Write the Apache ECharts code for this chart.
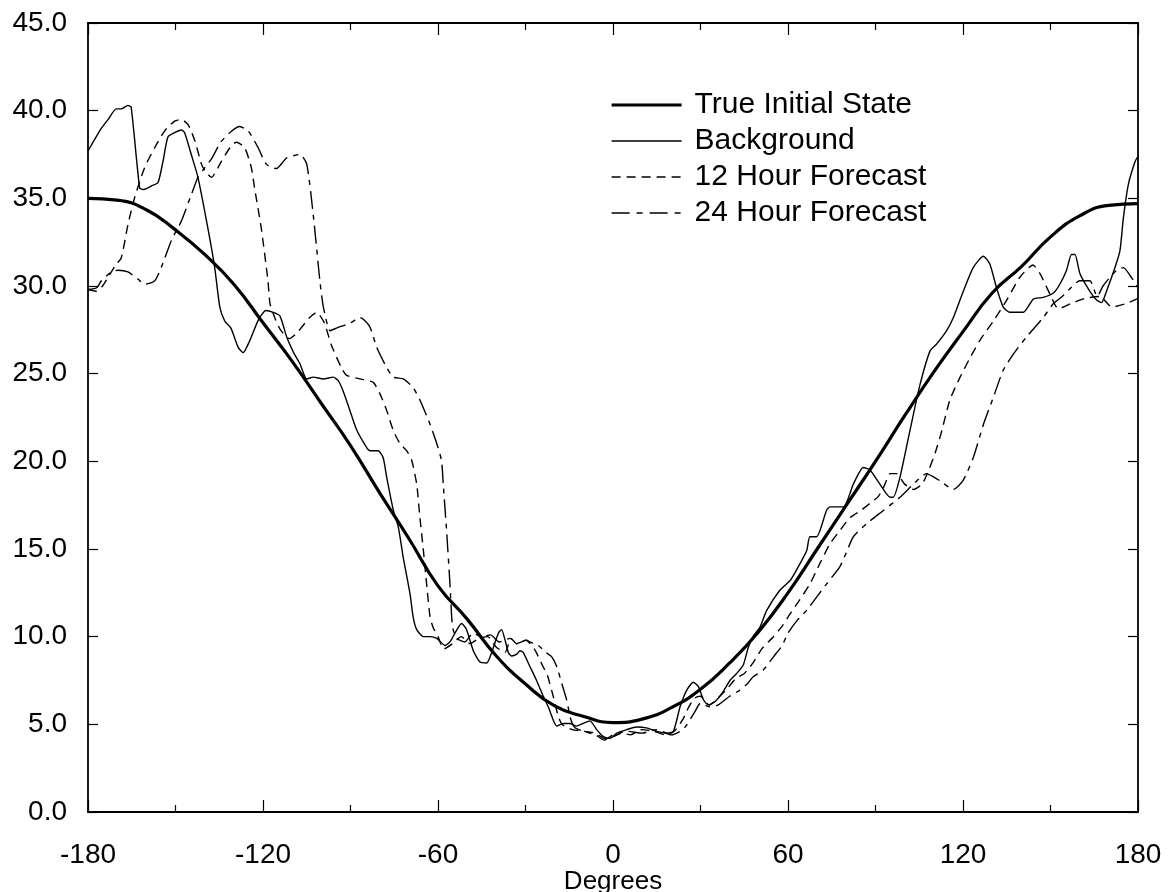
<!DOCTYPE html>
<html><head><meta charset="utf-8">
<script src="https://cdn.jsdelivr.net/npm/echarts@6/dist/echarts.min.js"></script>
<style>html,body{margin:0;padding:0;background:#fff}#c{width:1174px;height:892px}</style>
</head><body><div id="c"></div>
<script>
// ---- data ----
const trueX = [-180,-170,-160,-150,-140,-130,-120,-110,-100,-90,-80,-70,-60,-50,-40,-30,-20,-10,0,10,20,30,40,50,60,70,80,90,100,110,120,130,140,150,160,170,180];
const trueY = [35.0,34.9,34.35,33.2,31.8,30.1,27.9,25.7,23.3,20.9,18.2,15.6,12.9,11.0,8.9,7.3,6.05,5.45,5.1,5.3,5.95,7.0,8.5,10.3,12.5,15.0,17.5,20.0,22.6,25.1,27.4,29.6,31.1,32.8,34.0,34.6,34.7];

const bgX = [-180,-175.4,-173.1,-170.3,-168.6,-166.3,-165.2,-162.3,-161.1,-158.3,-156,-154.3,-152.6,-150.3,-148,-146.9,-144.6,-142.3,-138.9,-136.6,-134.8,-133.1,-131,-128.5,-126.8,-124.5,-121.5,-119,-116.5,-114.2,-111.9,-109.5,-107.3,-105,-102.8,-99.3,-95.9,-94.2,-92.5,-90.2,-87.9,-84.5,-83.3,-80.5,-78.8,-77.6,-75.3,-73.6,-71.9,-69.6,-68.5,-67.3,-65,-62.7,-60.4,-57.6,-55.9,-54.2,-51.9,-50.2,-47.9,-45.6,-43.3,-41.6,-39.3,-38.2,-37,-35.9,-34.8,-33,-31.9,-30.8,-28.5,-26.2,-23.9,-22.2,-20.5,-19.3,-17,-14.8,-12.5,-10.2,-7.9,-5.6,-3.3,-1,1.3,4.7,8.1,11.5,15,18.4,20.7,23,25.3,27.5,29.3,31,32.7,35,37.3,40.1,42.4,44.7,46.4,48,50.4,52.7,57.2,60.7,62.9,66.4,67.5,69.8,73.2,74.4,79,82.4,85.8,88.1,91.5,95,96.1,98.4,101.8,105.3,108.7,111,114.4,116.7,120.1,123.5,127,129.2,131.5,133.8,136.1,140.7,144.1,147.5,151,153.2,155.5,157.2,158.4,160.1,163.5,165.8,167.5,169.2,172.1,173.8,175,176.7,179,180];
const bgY = [37.7,39.0,39.5,40.1,40.1,40.3,40.2,35.6,35.5,35.7,35.9,37.1,38.5,38.75,38.9,38.75,37.5,36.2,33.3,31.1,28.8,28.0,27.6,26.5,26.2,26.9,28.1,28.6,28.5,28.3,27.1,26.2,25.55,24.7,24.8,24.7,24.8,24.6,24.0,22.9,21.8,20.8,20.6,20.6,20.2,19.1,17.2,16.25,14.5,12.45,11.1,10.4,10.0,10.0,9.9,9.5,9.7,10.2,10.75,10.4,9.2,8.55,8.5,9.1,10.2,10.4,9.8,9.1,8.9,9.0,9.2,9.1,8.3,7.5,6.6,6.0,5.25,4.9,5.05,5.05,4.9,5.05,5.2,4.7,4.3,4.2,4.5,4.7,4.85,4.8,4.6,4.5,4.6,6.0,6.95,7.4,7.15,6.4,6.1,6.3,6.75,7.5,7.9,8.4,9.4,10.0,10.55,11.5,12.65,13.2,13.8,14.9,15.7,15.7,17.2,17.4,17.4,18.7,19.65,19.5,18.7,17.95,17.95,19.1,21.75,24.4,26.3,26.7,27.45,28.2,29.7,31.05,31.7,31.25,29.9,28.8,28.5,28.5,29.25,29.35,29.6,30.1,30.9,31.8,31.8,30.7,29.7,29.2,29.05,29.7,31.05,32.0,33.9,35.8,37.1,37.4];

const f12X = [-180,-177,-175,-173.1,-170.5,-168.6,-166.3,-164,-160.6,-157.1,-153.7,-150.3,-148,-145.7,-143.4,-141.1,-140,-137.7,-134.3,-130.9,-129.1,-126.3,-124,-122.9,-120.6,-118.3,-117.6,-116,-114,-111,-108.5,-104,-101.6,-99,-96.5,-93,-91.3,-86.8,-82.2,-79.9,-77.6,-75.3,-73,-70.7,-69,-67.3,-66.2,-65,-63.9,-62.7,-61.6,-60,-58,-55,-52,-49,-46,-43,-40,-37,-35,-33,-30,-27,-24,-22.5,-20.5,-19,-17.5,-14,-10,-6,-3,0,3,6,10,14,18,21,24,26,28,30,33,36,39,42,45,48,51,55,58,60.7,64,67.5,71,74.4,78,81.3,85,88.1,91,93,95,97.2,100,103,106,108.5,110.5,112.5,115.5,119,122.4,125.8,130.4,135,139.5,144,146.4,149.8,152.7,157,162,167,171,176,180];
const f12Y = [29.8,29.7,30.0,30.5,31.2,31.6,33.5,35.05,36.75,37.9,38.85,39.4,39.5,39.2,38.3,36.95,36.6,36.2,37.1,38.0,38.2,37.9,36.75,35.6,33.3,30.3,29.0,28.2,27.5,27.0,27.3,28.2,28.5,27.9,26.6,25.3,24.9,24.7,24.5,23.85,22.9,21.75,21.0,20.6,20.05,18.7,16.8,14.9,13.0,11.1,10.5,10.0,9.3,9.6,10.0,9.6,9.9,10.0,9.4,9.1,9.9,9.6,9.8,9.3,8.3,7.8,6.6,5.6,5.0,4.7,4.6,4.5,4.2,4.3,4.5,4.4,4.7,4.6,4.4,4.6,5.3,6.0,6.5,6.6,6.1,6.5,7.0,7.6,7.9,8.5,9.3,10.0,10.6,11.3,12.1,13.0,14.2,15.3,16.1,16.8,17.2,17.6,18.0,18.6,19.3,19.3,18.7,18.4,18.7,19.6,20.5,21.6,23.5,24.8,25.9,26.9,28.0,29.2,30.5,31.2,30.7,29.55,28.7,29.0,29.3,29.4,28.8,29.0,29.3];

const f24X = [-180,-177,-175.4,-172,-169.7,-166.3,-162.9,-160.6,-157.1,-154.9,-151.4,-148,-144.6,-142.3,-140.6,-137.5,-134.5,-131,-128,-125.1,-121.7,-118.9,-115.4,-111.9,-107.3,-105,-102.8,-100.5,-99.3,-97,-94.8,-90,-86.8,-85.6,-83.3,-81,-77.6,-75.3,-71.9,-68.5,-66.2,-62.7,-60.4,-58.8,-58.2,-57,-55.9,-55.3,-54.8,-53.6,-50.8,-48,-45,-42,-39,-35.3,-33,-29.6,-28.5,-25.6,-23,-21,-19.3,-17.5,-15.9,-14.5,-13,-10,-6,-3,0,5,10,15,20,23,25,28,30,33,36,40,43.5,46,48,51.5,55,58,60,63,66.4,70,73.2,77.8,80,82.4,87,92.7,98.4,103,107.5,110,112,116.7,120,123.5,127,130.4,133.8,137.2,141.8,147.5,151,154,157,160,163.5,166,168,170.4,172.7,175,177.3,180];
const f24Y = [29.8,29.9,30.3,30.8,30.9,30.8,30.4,30.1,30.3,31.05,32.6,33.7,35.2,36.2,36.6,37.3,38.2,38.8,39.1,38.85,37.9,36.95,36.7,37.3,37.5,36.95,34.1,30.3,28.8,27.45,27.6,27.9,28.2,28.1,27.65,26.5,25.35,24.8,24.7,24.2,23.5,22.1,21.0,20.05,18.7,15.9,13.0,11.1,10.4,9.9,9.7,10.2,10.0,10.1,9.7,9.9,9.6,9.8,9.7,9.5,9.1,8.85,8.3,7.3,6.4,5.3,4.8,4.6,4.4,4.1,4.4,4.6,4.5,4.7,4.4,4.6,4.9,5.7,6.2,6.0,6.1,6.6,6.95,7.3,7.7,8.1,8.85,9.5,10.2,10.9,11.5,12.3,13.0,14.0,14.8,15.7,16.45,17.2,17.95,18.7,19.3,19.1,18.9,18.4,18.9,20.2,22.1,23.65,25.2,26.1,27.1,28.2,29.0,29.4,29.9,30.3,30.3,29.4,30.0,30.5,30.9,31.05,30.6,29.9];

const seriesNames = ['True Initial State','Background','12 Hour Forecast','24 Hour Forecast'];

// ---- chart ----
const zip = (xs, ys) => xs.map((x, i) => [x, ys[i]]);
const FONT = 'Liberation Sans, Arial, Helvetica, sans-serif';
const INK = '#000';
const chart = echarts.init(document.getElementById('c'), null, {renderer: 'canvas'});

const commonX = {
  type: 'value', min: -180, max: 180, interval: 60,
  axisLine: {show: true, onZero: false, lineStyle: {color: INK, width: 1.8}},
  axisTick: {show: true, inside: true, length: 12, lineStyle: {color: INK, width: 1.2}},
  minorTick: {show: true, splitNumber: 2, length: 7, lineStyle: {color: INK, width: 1.2}},
  splitLine: {show: false}
};
const commonY = {
  type: 'value', min: 0, max: 45, interval: 5,
  axisLine: {show: true, onZero: false, lineStyle: {color: INK, width: 1.8}},
  axisTick: {show: true, inside: true, length: 10, lineStyle: {color: INK, width: 1.2}},
  splitLine: {show: false}
};

const lineBase = (name, data, width, type, smooth) => ({
  name, type: 'line', data, symbol: 'none', showSymbol: false, smooth,
  lineStyle: {color: INK, width, type}, itemStyle: {color: INK}, animation: false
});

const legendStyles = [
  {width: 3.2, type: 'solid'},
  {width: 1.5, type: 'solid'},
  {width: 1.5, type: [9, 6]},
  {width: 1.5, type: [18, 7, 6, 7]}
];

chart.setOption({
  animation: false,
  backgroundColor: '#fff',
  textStyle: {fontFamily: FONT, color: INK},
  grid: {left: 88, right: 36, top: 23, bottom: 80, containLabel: false, outerBoundsMode: 'none'},
  xAxis: [
    Object.assign({}, commonX, {
      position: 'bottom',
      axisLabel: {show: true, fontSize: 28, color: INK, fontFamily: FONT, margin: 29},
      name: 'Degrees', nameLocation: 'middle', nameGap: 57, nameMoveOverlap: false,
      nameTextStyle: {fontSize: 26, color: INK, fontFamily: FONT}
    }),
    Object.assign({}, commonX, {position: 'top', axisLabel: {show: false}})
  ],
  yAxis: [
    Object.assign({}, commonY, {
      position: 'left',
      axisLabel: {show: true, fontSize: 28, color: INK, fontFamily: FONT, margin: 21,
        formatter: v => v.toFixed(1)}
    }),
    Object.assign({}, commonY, {position: 'right', axisLabel: {show: false}})
  ],
  legend: {
    orient: 'vertical', left: 610, top: 90, padding: 0,
    itemWidth: 70, itemHeight: 14, itemGap: 6,
    data: seriesNames.map((n, i) => ({name: n, lineStyle: Object.assign({color: INK}, legendStyles[i])})),
    itemStyle: {color: 'rgba(0,0,0,0)', borderColor: 'rgba(0,0,0,0)', borderWidth: 0, opacity: 0},
    textStyle: {fontSize: 30, color: INK, fontFamily: FONT, lineHeight: 30, padding: [0, 0, 0, 8]}
  },
  series: [
    lineBase(seriesNames[0], zip(trueX, trueY), 3.2, 'solid', true),
    lineBase(seriesNames[1], zip(bgX, bgY), 1.4, 'solid', 0.2),
    lineBase(seriesNames[2], zip(f12X, f12Y), 1.4, [9, 6], 0.2),
    lineBase(seriesNames[3], zip(f24X, f24Y), 1.4, [18, 6, 5, 6], 0.2)
  ]
});
</script>
</body></html>
